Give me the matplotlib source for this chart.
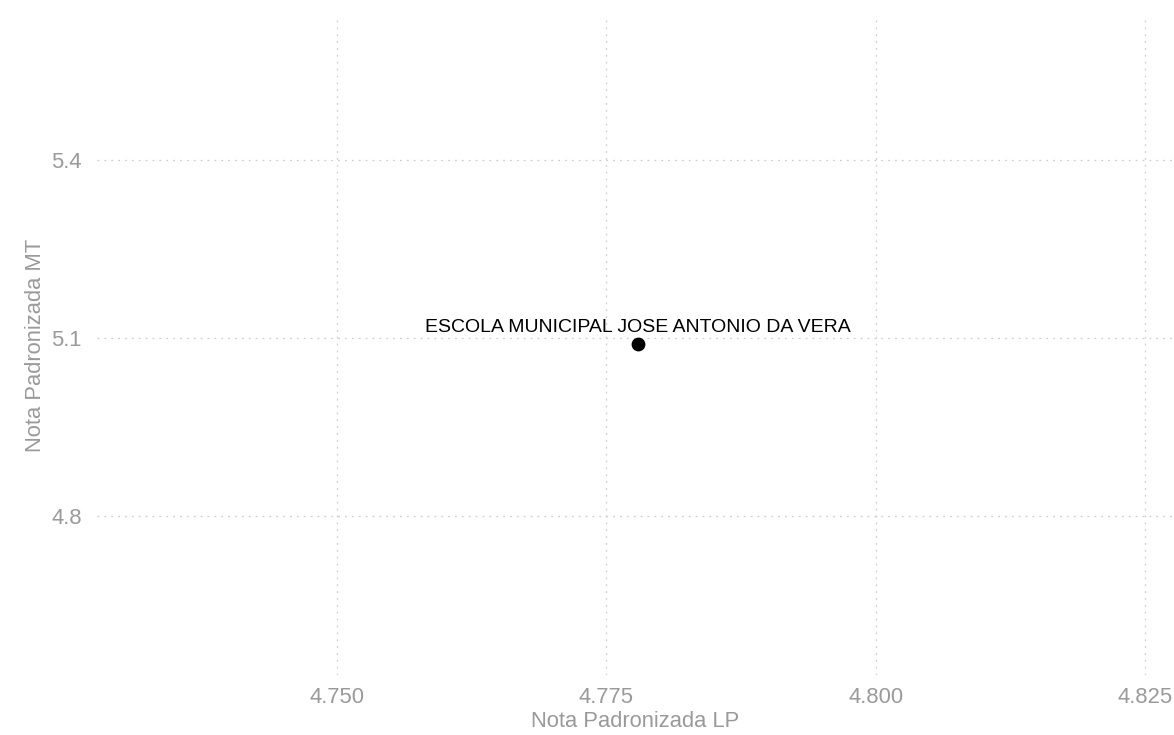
import matplotlib.pyplot as plt


# ==========================================================
# Data
# ==========================================================

escolas = ["ESCOLA MUNICIPAL JOSE ANTONIO DA VERA"]
nota_lp = [4.7779]
nota_mt = [5.089]

x_ticks = [4.750, 4.775, 4.800, 4.825]
y_ticks = [4.8, 5.1, 5.4]


# ==========================================================
# Figure
# ==========================================================

plt.rcParams["font.family"] = ["Liberation Sans", "DejaVu Sans"]

W, H = 1174, 735

fig = plt.figure(figsize=(W / 100, H / 100), dpi=100)

ax = fig.add_axes([
    97 / W,
    (H - 675) / H,
    (W - 97) / W,
    660 / H,
])

grey = "#9a9a9a"
grid_col = "#cfcfcf"

ax.scatter(
    nota_lp,
    nota_mt,
    s=80,
    color="black",
    zorder=3,
)

for nome, x, y in zip(escolas, nota_lp, nota_mt):
    ax.annotate(
        nome,
        xy=(x, y),
        xytext=(0, 8.6),
        textcoords="offset points",
        ha="center",
        va="baseline",
        fontsize=14.0,
        color="black",
        zorder=4,
    )

ax.set_xlim(nota_lp[0] - 0.0502, nota_lp[0] + 0.0498)
ax.set_ylim(4.532, 5.644)

ax.set_xticks(x_ticks)
ax.set_xticklabels([f"{v:.3f}" for v in x_ticks])
ax.set_yticks(y_ticks)
ax.set_yticklabels([f"{v:.1f}" for v in y_ticks])

ax.grid(
    True,
    color=grid_col,
    linestyle=(0, (1.5, 4)),
    linewidth=0.9,
)
ax.set_axisbelow(True)

for side in ax.spines.values():
    side.set_visible(False)

ax.tick_params(
    axis="both",
    length=0,
    labelsize=15.8,
    labelcolor=grey,
)
ax.tick_params(axis="x", pad=8.5)
ax.tick_params(axis="y", pad=11)

ax.set_xlabel("Nota Padronizada LP", fontsize=15.8, color=grey, labelpad=2)
ax.set_ylabel("Nota Padronizada MT", fontsize=15.8, color=grey, labelpad=3.5)

fig.savefig("out.png", dpi=100)
